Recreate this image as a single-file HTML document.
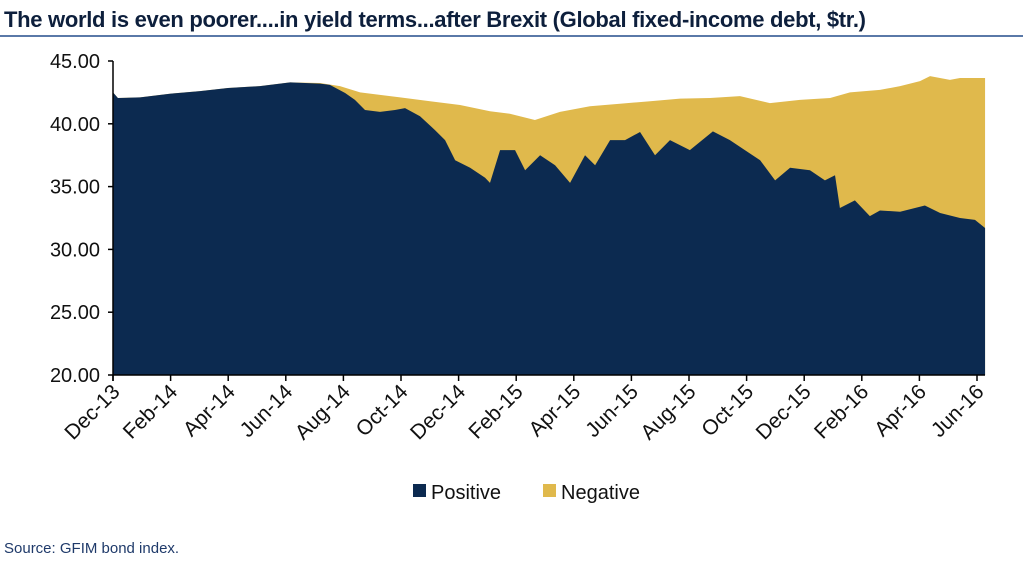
<!DOCTYPE html>
<html><head><meta charset="utf-8"><style>
body{margin:0;background:#fff;width:1023px;height:562px;overflow:hidden;font-family:"Liberation Sans",sans-serif}
</style></head><body>
<svg width="1023" height="562">
<text x="4" y="27" font-size="22" font-weight="bold" fill="#0d1f3c" textLength="862">The world is even poorer....in yield terms...after Brexit (Global fixed-income debt, $tr.)</text>
<line x1="0" y1="36" x2="1023" y2="36" stroke="#5a79a8" stroke-width="2"/>
<g id="plot"></g>
<g id="axes"></g>
<rect x="413" y="484" width="13" height="13" fill="#0c2a50"/>
<text x="431" y="499" font-size="20" fill="#111">Positive</text>
<rect x="543" y="484" width="13" height="13" fill="#e0b94c"/>
<text x="561" y="499" font-size="20" fill="#111">Negative</text>
<text x="4" y="553" font-size="15" fill="#1f3a6a">Source: GFIM bond index.</text>
</svg>
<script>
const totalT=[0,0.17,0.94,2.01,3.02,3.99,5.1,6.15,7.19,7.88,8.58,9.27,9.97,11.01,12.05,13.09,13.78,14.65,15.52,16.56,17.6,18.65,19.69,20.73,21.77,22.81,23.85,24.9,25.59,26.63,27.33,28.02,28.37,29.06,29.41,30.28];
const totalV=[42.5,42.05,42.1,42.4,42.6,42.85,43.0,43.3,43.25,43.0,42.5,42.3,42.1,41.8,41.5,41.0,40.8,40.3,40.95,41.4,41.6,41.8,42.0,42.05,42.2,41.65,41.9,42.05,42.5,42.7,43.0,43.4,43.8,43.5,43.65,43.65];
const posT=[0,0.17,0.94,2.01,3.02,3.99,5.1,6.15,7.19,7.53,8.06,8.4,8.75,9.27,9.79,10.14,10.66,11.18,11.53,11.88,12.4,12.92,13.09,13.44,13.96,14.31,14.83,15.35,15.87,16.39,16.74,17.26,17.78,18.3,18.82,19.34,20.03,20.83,21.42,21.94,22.47,22.99,23.51,24.2,24.72,25.07,25.24,25.76,26.28,26.63,27.33,28.19,28.72,29.41,29.93,30.28];
const posV=[42.5,42.05,42.1,42.4,42.6,42.85,43.0,43.3,43.2,43.1,42.45,41.9,41.1,40.95,41.1,41.25,40.6,39.5,38.7,37.1,36.5,35.7,35.3,37.9,37.9,36.3,37.5,36.7,35.3,37.5,36.7,38.7,38.7,39.35,37.5,38.7,37.9,39.4,38.7,37.9,37.1,35.5,36.5,36.3,35.5,35.9,33.3,33.9,32.65,33.1,33.0,33.5,32.9,32.5,32.35,31.7];
const yTicks=[20,25,30,35,40,45];
const xLabels=["Dec-13","Feb-14","Apr-14","Jun-14","Aug-14","Oct-14","Dec-14","Feb-15","Apr-15","Jun-15","Aug-15","Oct-15","Dec-15","Feb-16","Apr-16","Jun-16"];
const NS="http://www.w3.org/2000/svg";
const X=t=>113+t*28.8, Y=v=>375-(v-20)*12.56;
const plot=document.getElementById('plot'), axes=document.getElementById('axes');
function area(T,V,fill,name){
  let d=`M${X(T[0])},${Y(20)}`;
  T.forEach((t,i)=>d+=`L${X(t)},${Y(V[i])}`);
  d+=`L${X(T[T.length-1])},${Y(20)}Z`;
  const p=document.createElementNS(NS,'path');
  p.setAttribute('d',d);p.setAttribute('fill',fill);
  
  
  plot.appendChild(p);
}
area(totalT,totalV,'#e0b94c','negative-area');
area(posT,posV,'#0c2a50','positive-area');
function ln(x1,y1,x2,y2){const l=document.createElementNS(NS,'line');
 l.setAttribute('x1',x1);l.setAttribute('y1',y1);l.setAttribute('x2',x2);l.setAttribute('y2',y2);
 l.setAttribute('stroke','#000');l.setAttribute('stroke-width','1.5');
 
 
 axes.appendChild(l);}
ln(113,Y(45),113,Y(20)+6);ln(113,Y(20),985,Y(20));
yTicks.forEach(v=>{ln(108,Y(v),113,Y(v));
 const t=document.createElementNS(NS,'text');
 t.setAttribute('x',100);t.setAttribute('y',Y(v)+7);t.setAttribute('text-anchor','end');
 t.setAttribute('font-size','20');t.setAttribute('fill','#111');t.textContent=v.toFixed(2);
 
 
 axes.appendChild(t);});
xLabels.forEach((s,i)=>{const x=X(i*2);ln(x,Y(20),x,Y(20)+6);
 const t=document.createElementNS(NS,'text');
 t.setAttribute('transform',`translate(${x+8},${Y(20)+18}) rotate(-45)`);
 t.setAttribute('text-anchor','end');t.setAttribute('font-size','21');t.setAttribute('fill','#111');
 t.textContent=s;
 
 
 axes.appendChild(t);});
</script>
</body></html>
